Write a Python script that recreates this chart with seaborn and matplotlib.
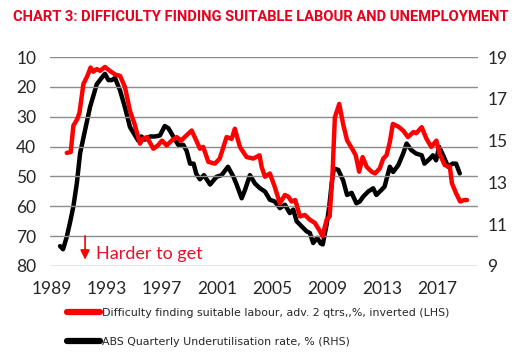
import pandas as pd
import matplotlib.pyplot as plt
import seaborn as sns

# Difficulty finding suitable labour (LHS, inverted)
red_year = [1990.07, 1990.36, 1990.55, 1990.84, 1991.0, 1991.28, 1991.57, 1991.8, 1992.0, 1992.25,
            1992.5, 1992.85, 1993.2, 1993.58, 1993.95, 1994.3, 1994.67, 1995.0, 1995.4, 1995.6,
            1995.9, 1996.37, 1996.7, 1997.0, 1997.34, 1997.7, 1998.07, 1998.4, 1998.65, 1999.16,
            1999.5, 1999.76, 2000.0, 2000.37, 2000.85, 2001.2, 2001.7, 2002.07, 2002.3, 2002.67,
            2003.16, 2003.64, 2004.1, 2004.25, 2004.5, 2004.85, 2005.2, 2005.58, 2005.95, 2006.2,
            2006.43, 2006.7, 2007.04, 2007.4, 2007.76, 2008.13, 2008.5, 2008.68, 2008.98, 2009.2,
            2009.41, 2009.58, 2009.9, 2010.18, 2010.47, 2010.9, 2011.1, 2011.35, 2011.6, 2011.9,
            2012.25, 2012.5, 2012.85, 2013.1, 2013.34, 2013.58, 2013.8, 2014.2, 2014.55, 2014.9,
            2015.3, 2015.5, 2015.9, 2016.25, 2016.6, 2016.97, 2017.2, 2017.58, 2017.95, 2018.1,
            2018.4, 2018.7, 2019.0, 2019.2]
red_val = [42.1, 41.8, 33.0, 30.7, 28.5, 19.0, 16.3, 13.5, 14.9, 14.0,
           14.6, 13.3, 14.6, 15.8, 16.3, 20.0, 28.0, 32.4, 39.0, 37.4,
           36.8, 40.7, 39.6, 38.0, 39.6, 38.0, 36.8, 38.0, 36.8, 34.6,
           38.0, 40.7, 40.1, 45.1, 45.7, 44.0, 36.8, 37.4, 34.0, 40.1,
           43.5, 44.0, 42.9, 46.8, 50.1, 49.0, 53.4, 59.0, 56.2, 56.8,
           58.4, 57.9, 63.4, 62.9, 64.5, 65.6, 68.4, 70.0, 64.5, 63.4,
           49.0, 30.2, 25.7, 32.4, 37.9, 41.2, 42.9, 48.4, 43.5, 46.8,
           48.4, 49.0, 47.3, 44.0, 42.9, 38.5, 32.4, 33.3, 34.6, 36.8,
           35.1, 35.5, 33.5, 37.4, 40.1, 38.0, 42.4, 46.2, 46.8, 52.3,
           55.6, 58.4, 57.9, 57.9]

# ABS quarterly underutilisation rate (RHS)
black_year = [1989.58, 1989.8, 1990.07, 1990.3, 1990.55, 1990.8, 1991.04, 1991.4, 1991.76, 1992.25,
              1992.6, 1992.85, 1993.1, 1993.34, 1993.58, 1993.95, 1994.3, 1994.67, 1994.9, 1995.27,
              1995.5, 1995.76, 1996.13, 1996.5, 1996.85, 1997.2, 1997.46, 1997.82, 1998.18, 1998.55,
              1998.8, 1999.04, 1999.3, 1999.5, 1999.76, 2000.05, 2000.5, 2000.97, 2001.34, 2001.8,
              2002.2, 2002.43, 2002.8, 2003.04, 2003.4, 2003.76, 2004.13, 2004.5, 2004.85, 2005.2,
              2005.58, 2005.95, 2006.3, 2006.55, 2006.8, 2007.16, 2007.52, 2007.76, 2008.0, 2008.3,
              2008.54, 2008.7, 2008.98, 2009.17, 2009.35, 2009.5, 2009.83, 2010.18, 2010.47, 2010.8,
              2011.15, 2011.4, 2011.64, 2012.0, 2012.37, 2012.6, 2012.97, 2013.2, 2013.58, 2013.82,
              2014.2, 2014.55, 2014.8, 2015.16, 2015.5, 2015.9, 2016.1, 2016.5, 2016.72, 2016.95,
              2017.17, 2017.46, 2017.82, 2018.14, 2018.4, 2018.67]
black_val = [9.95, 9.8, 10.4, 11.06, 11.85, 12.95, 14.4, 15.5, 16.6, 17.7,
             18.0, 18.2, 17.9, 17.9, 18.0, 17.4, 16.6, 15.65, 15.4, 15.0,
             15.2, 15.05, 15.2, 15.2, 15.25, 15.7, 15.6, 15.2, 14.8, 14.8,
             14.5, 13.9, 13.9, 13.4, 13.15, 13.35, 12.9, 13.27, 13.35, 13.75,
             13.27, 12.9, 12.24, 12.64, 13.35, 12.95, 12.72, 12.56, 12.17, 12.09,
             11.77, 11.93, 11.53, 11.7, 11.14, 10.9, 10.66, 10.58, 10.1, 10.35,
             10.08, 10.03, 10.98, 11.85, 12.95, 13.67, 13.6, 13.1, 12.4, 12.5,
             12.0, 12.09, 12.32, 12.56, 12.72, 12.4, 12.64, 12.8, 13.75, 13.5,
             13.83, 14.38, 14.86, 14.54, 14.38, 14.3, 13.9, 14.14, 14.3, 14.06,
             14.7, 14.3, 13.75, 13.9, 13.9, 13.43]

x_ticks = [1989, 1993, 1997, 2001, 2005, 2009, 2013, 2017]
left_ticks = [10, 20, 30, 40, 50, 60, 70, 80]
right_ticks = [9, 11, 13, 15, 17, 19]

red_label = "Difficulty finding suitable labour, adv. 2 qtrs,,%, inverted (LHS)"
black_label = "ABS Quarterly Underutilisation rate, % (RHS)"

red_df = pd.DataFrame({"year": red_year, "value": red_val})
black_df = pd.DataFrame({"year": black_year, "value": black_val})

sns.set_style("white")
plt.rcParams['font.family'] = ['Lato', 'DejaVu Sans']

fig = plt.figure(figsize=(5.21, 3.57), dpi=100)
ax = fig.add_axes([0.096, 0.255, 0.821, 0.585])
ax2 = ax.twinx()

sns.lineplot(data=black_df, x="year", y="value", ax=ax2, color="black", linewidth=3.2)
sns.lineplot(data=red_df, x="year", y="value", ax=ax, color="#ff0000", linewidth=3.2)

# red line drawn on top
ax.set_zorder(2)
ax.patch.set_visible(False)
ax2.set_zorder(1)

ax.set_xlim(1988.85, 2019.98)
ax.set_ylim(80, 10)
ax2.set_ylim(9, 19)

ax.set_xticks(x_ticks)
ax.set_yticks(left_ticks)
ax2.set_yticks(right_ticks)
ax.tick_params(axis='y', length=0, labelsize=12.5, pad=10)
ax.tick_params(axis='x', length=0, labelsize=12.5, pad=11)
ax2.tick_params(axis='y', length=0, labelsize=12.5, pad=7)
ax.grid(axis='y', color='#8c8c8c', linewidth=1)
ax.grid(axis='x', visible=False)
ax2.grid(False)
for a in (ax, ax2):
    for s in a.spines.values():
        s.set_visible(False)
    a.set_xlabel("")
    a.set_ylabel("")

# arrow note
ax.annotate("", xy=(1991.4, 78.8), xytext=(1991.4, 69.0),
            arrowprops=dict(arrowstyle="-|>", color="#ff0000", lw=1.2, mutation_scale=14))
ax.text(1992.2, 76.0, "Harder to get", color="#e8102a", fontsize=13, va="center")

fig.text(0.025, 0.953, "CHART 3: DIFFICULTY FINDING SUITABLE LABOUR AND UNEMPLOYMENT",
         color="#e8001c", fontsize=10.6, fontweight="bold", family="Roboto",
         va="center", ha="left")

# legend
h_red, = ax.plot([], [], color="#ff0000", linewidth=4.5)
h_black, = ax.plot([], [], color="black", linewidth=4.5)
fig.legend([h_red, h_black], [red_label, black_label], loc="upper left",
           bbox_to_anchor=(0.11, 0.165), frameon=False,
           handlelength=3.0, handletextpad=0.15, labelspacing=1.7,
           prop={"family": "DejaVu Sans", "size": 7.9})

fig.savefig("out.png", dpi=100)
